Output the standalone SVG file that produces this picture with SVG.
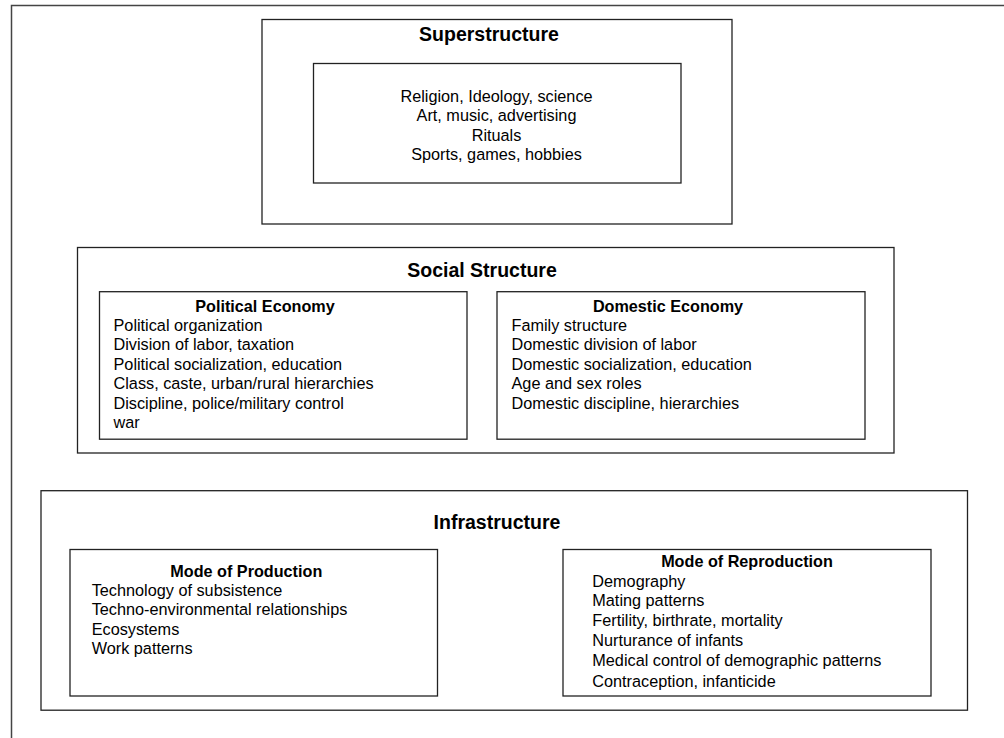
<svg xmlns="http://www.w3.org/2000/svg" width="1004" height="738" viewBox="0 0 1004 738">
<style>
.box{fill:#fff;stroke:#222;stroke-width:1.3}
.frame{fill:none;stroke:#444;stroke-width:1.5}
.h1{font-family:"Liberation Sans",Arial,sans-serif;font-weight:bold;font-size:19.5px;fill:#000;text-anchor:middle}
.h2{font-family:"Liberation Sans",Arial,sans-serif;font-weight:bold;font-size:16.2px;fill:#000;text-anchor:middle}
.t{font-family:"Liberation Sans",Arial,sans-serif;font-size:16.25px;fill:#000}
.c{text-anchor:middle}
</style>
<rect width="1004" height="738" fill="#fff"/>
<path class="frame" d="M11.5,738 V5.5 H1004"/>
<g id="superstructure">
<rect class="box" x="262" y="19.5" width="470" height="204.5"/>
<text class="h1" x="489" y="40.5">Superstructure</text>
<g id="superstructure-items">
<rect class="box" x="313.5" y="63.5" width="367.5" height="119.5"/>
<text class="t c" x="496.5" y="101.5">Religion, Ideology, science</text>
<text class="t c" x="496.5" y="121">Art, music, advertising</text>
<text class="t c" x="496.5" y="140.5">Rituals</text>
<text class="t c" x="496.5" y="160">Sports, games, hobbies</text>
</g>
</g>
<g id="social-structure">
<rect class="box" x="77.5" y="247.5" width="816.5" height="205.5"/>
<text class="h1" x="482" y="276.7">Social Structure</text>
<g id="political-economy">
<rect class="box" x="99.5" y="291.7" width="367.5" height="147.5"/>
<text class="h2" x="265" y="311.5">Political Economy</text>
<text class="t" x="113.5" y="330.5">Political organization</text>
<text class="t" x="113.5" y="350">Division of labor, taxation</text>
<text class="t" x="113.5" y="369.5">Political socialization, education</text>
<text class="t" x="113.5" y="389">Class, caste, urban/rural hierarchies</text>
<text class="t" x="113.5" y="408.5">Discipline, police/military control</text>
<text class="t" x="113.5" y="428">war</text>
</g>
<g id="domestic-economy">
<rect class="box" x="497" y="291.7" width="368" height="147.5"/>
<text class="h2" x="668" y="311.5">Domestic Economy</text>
<text class="t" x="511.5" y="330.5">Family structure</text>
<text class="t" x="511.5" y="350">Domestic division of labor</text>
<text class="t" x="511.5" y="369.5">Domestic socialization, education</text>
<text class="t" x="511.5" y="389">Age and sex roles</text>
<text class="t" x="511.5" y="408.5">Domestic discipline, hierarchies</text>
</g>
</g>
<g id="infrastructure">
<rect class="box" x="41" y="490.7" width="926.5" height="219.5"/>
<text class="h1" x="497" y="529.3">Infrastructure</text>
<g id="mode-of-production">
<rect class="box" x="70" y="549.5" width="367.5" height="146.5"/>
<text class="h2" x="246.3" y="577">Mode of Production</text>
<text class="t" x="91.7" y="595.5">Technology of subsistence</text>
<text class="t" x="91.7" y="615">Techno-environmental relationships</text>
<text class="t" x="91.7" y="634.5">Ecosystems</text>
<text class="t" x="91.7" y="654">Work patterns</text>
</g>
<g id="mode-of-reproduction">
<rect class="box" x="563" y="549.5" width="368" height="146.5"/>
<text class="h2" x="747" y="567.3">Mode of Reproduction</text>
<text class="t" x="592.3" y="586.7">Demography</text>
<text class="t" x="592.3" y="606">Mating patterns</text>
<text class="t" x="592.3" y="626">Fertility, birthrate, mortality</text>
<text class="t" x="592.3" y="645.7">Nurturance of infants</text>
<text class="t" x="592.3" y="665.5">Medical control of demographic patterns</text>
<text class="t" x="592.3" y="686.7">Contraception, infanticide</text>
</g>
</g>
<g id="connectors"/>
</svg>
